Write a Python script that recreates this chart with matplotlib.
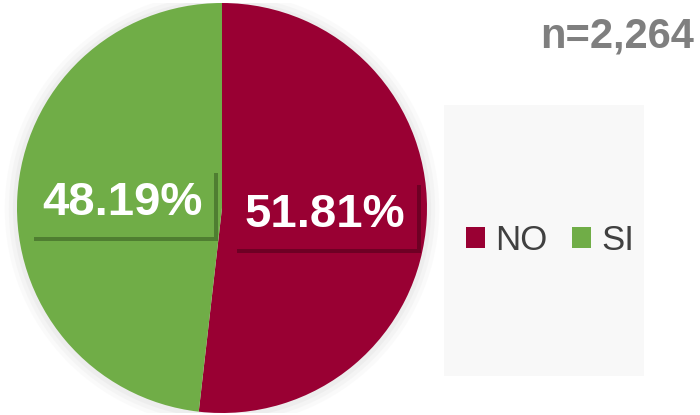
import matplotlib.pyplot as plt
from matplotlib.patches import Rectangle, Circle
import matplotlib.patheffects as pe

labels = ['NO', 'SI']
values = [51.81, 48.19]
colors = ['#990033', '#70AD47']
label_colors = ['#990033', '#70AD47']
shadow_colors = ['#6e0024', '#4f7e31']
n_text = 'n=2,264'

plt.rcParams['font.family'] = ['Liberation Sans', 'DejaVu Sans']

fig = plt.figure(figsize=(7, 4.15), dpi=100)
fig.patch.set_facecolor('white')

# pie axes: centre (222, 208) px, radius 205 px
W, H = 700, 415
cx, cy, r = 222, 208, 205
ax = fig.add_axes([(cx - r * 1.1) / W, (H - cy - r) / H, 2.2 * r / W, 2 * r / H])

# soft glow behind pie
for k, a in zip([1.06, 1.04, 1.02], [0.05, 0.07, 0.09]):
    ax.add_patch(Circle((0, -0.005), k, color='#b0b0b0', alpha=a, lw=0, zorder=0))

wedges, _ = ax.pie(values, colors=colors, startangle=90, counterclock=False,
                   radius=1, wedgeprops=dict(linewidth=0))
ax.set_xlim(-1.1, 1.1)
ax.set_ylim(-1.0, 1.0)
ax.set_aspect('equal')
ax.axis('off')
ax.set_position([(cx - r * 1.1) / W, (H - cy - r) / H, 2.2 * r / W, 2 * r / H])

label_pos = [(0.502, -0.034), (-0.488, 0.024)]
for i, v in enumerate(values):
    x, y = label_pos[i]
    t = ax.text(x, y, f'{v:.2f}%', ha='center', va='center',
                fontsize=34, fontweight='bold', color='white',
                bbox=dict(boxstyle='square,pad=0.25', fc=label_colors[i], ec='none'))
    t.get_bbox_patch().set_path_effects([
        pe.SimplePatchShadow(offset=(3, -3), shadow_rgbFace=shadow_colors[i], alpha=1),
        pe.Normal()])

# legend panel
fig.patches.append(Rectangle((444 / W, (H - 376) / H), 200 / W, 271 / H,
                             transform=fig.transFigure, fc='#f8f8f8', ec='none',
                             zorder=0))
fig.legend(wedges, labels, loc='center', bbox_to_anchor=(550 / W, (H - 240) / H),
           ncol=2, frameon=False, fontsize=25, handlelength=0.55,
           handleheight=0.55, handletextpad=0.3, columnspacing=0.7,
           labelcolor='#404040')

fig.text(617 / W, (H - 37) / H, n_text, ha='center', va='center',
         fontsize=30, fontweight='bold', color='#7f7f7f')

fig.savefig('out.png', dpi=100)
